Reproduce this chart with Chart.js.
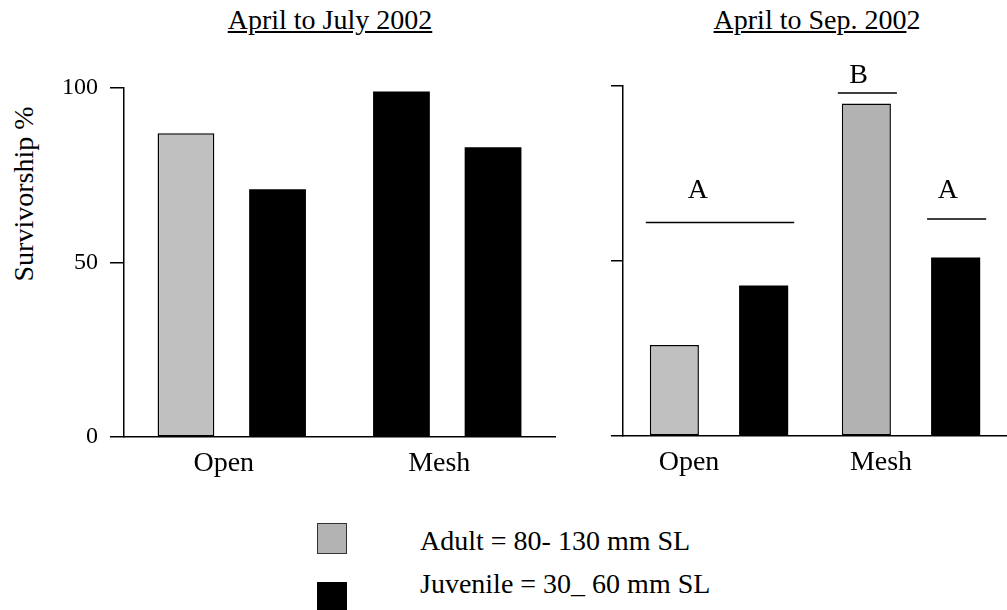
<!DOCTYPE html>
<html>
<head>
<meta charset="utf-8">
<script src="https://cdn.jsdelivr.net/npm/chart.js@4.4.0/dist/chart.umd.min.js"></script>
<style>
  body { margin: 0; background: #fff; width: 1007px; height: 610px; position: relative; overflow: hidden; color: #000; }
  .abs { position: absolute; white-space: nowrap; font-family: 'Liberation Serif', serif; font-size: 28px; line-height: 28px; }
  #leftWrap { position: absolute; left: 0; top: 0; width: 560px; height: 500px; }
  #rightWrap { position: absolute; left: 560px; top: 0; width: 447px; height: 500px; }
  .swatch { position: absolute; width: 28px; height: 29px; }
</style>
</head>
<body>
<div class="abs" style="left:330px; top:6px; transform:translateX(-50%); text-decoration:underline;">April to July 2002</div>
<div class="abs" style="left:817px; top:6px; transform:translateX(-50%);"><u>April to Sep. 200</u>2</div>
<div class="abs" style="left:24px; top:194px; transform:translate(-50%,-50%) rotate(-90deg);">Survivorship %</div>

<div id="leftWrap"><canvas id="julyChart"></canvas></div>
<div id="rightWrap"><canvas id="sepChart"></canvas></div>

<div class="swatch" style="left:317px; top:523px; background:#b3b3b3; border:1px solid #333;"></div>
<div class="swatch" style="left:317px; top:582px; background:#000; border:1px solid #000;"></div>
<div class="abs" style="left:420px; top:527px;">Adult = 80- 130 mm SL</div>
<div class="abs" style="left:420px; top:570px;">Juvenile = 30_ 60 mm SL</div>

<script>
// groups on the x axis
const groups = ["Open", "Mesh"];

// April to July 2002 (left panel): first and second bar of each group
const julyFirst = [87, 99];
const julySecond = [71, 83];

// April to Sep. 2002 (right panel)
const sepAdult = [26, 95];
const sepJuvenile = [43, 51];

// y axis ticks
const yTicks = [0, 50, 100];

// significance letters (right panel); spans are bar indices left to right
const sigLetters = ["A", "B", "A"];
const sigSpans = [[0, 1], [2, 2], [3, 3]];
const sigLineLevels = [61, 98, 62];
const sigLetterLevels = [70, 103, 70];

const GREY = "#c0c0c0";
const GREY_DARK = "#b2b2b2";
const FONT = "'Liberation Serif', serif";
Chart.defaults.font.family = FONT;

function yScale(showLabels) {
  return {
    min: 0,
    max: 100,
    afterBuildTicks: s => { s.ticks = yTicks.map(v => ({ value: v })); },
    afterFit: s => { s.width = showLabels ? 124 : 63; },
    ticks: {
      color: "#000",
      padding: 12,
      font: { family: FONT, size: 24 },
      callback: v => showLabels ? v : ""
    },
    grid: { drawOnChartArea: false, drawTicks: true, tickLength: showLabels ? 14 : 12, color: "#000", lineWidth: 1.5 },
    border: { display: true, color: "#000", width: 1.5 }
  };
}

function xScale(labelOffset, height) {
  return {
    afterFit: s => { s.height = height; },
    ticks: { color: "#000", padding: 10, labelOffset: labelOffset, font: { family: FONT, size: 28 } },
    grid: { display: false, drawTicks: false },
    border: { display: true, color: "#000", width: 1.5 }
  };
}

const commonOptions = {
  responsive: true,
  maintainAspectRatio: false,
  animation: false,
  plugins: { legend: { display: false }, tooltip: { enabled: false } }
};

// lines and letters above the right panel bars
const sigPlugin = {
  id: "sigPlugin",
  afterDatasetsDraw(chart) {
    const { ctx } = chart;
    const y = chart.scales.y;
    const m0 = chart.getDatasetMeta(0).data;
    const m1 = chart.getDatasetMeta(1).data;
    const bars = [m0[0], m1[0], m0[1], m1[1]];
    ctx.save();
    ctx.strokeStyle = "#000";
    ctx.lineWidth = 1.5;
    ctx.fillStyle = "#000";
    ctx.font = "28px " + FONT;
    ctx.textAlign = "center";
    ctx.textBaseline = "middle";
    sigLetters.forEach((letter, i) => {
      const a = bars[sigSpans[i][0]];
      const b = bars[sigSpans[i][1]];
      const x0 = a.x - a.width / 2 - 4;
      const x1 = b.x + b.width / 2 + 6;
      const ly = y.getPixelForValue(sigLineLevels[i]);
      ctx.beginPath();
      ctx.moveTo(x0, ly);
      ctx.lineTo(x1, ly);
      ctx.stroke();
      ctx.fillText(letter, x0 + (x1 - x0) * 0.35, y.getPixelForValue(sigLetterLevels[i]));
    });
    ctx.restore();
  }
};

function drawCharts() {
  // left panel
  new Chart(document.getElementById("julyChart"), {
    type: "bar",
    data: {
      labels: groups,
      datasets: [
        {
          data: julyFirst,
          backgroundColor: [GREY, "#000"],
          borderColor: "#000",
          borderWidth: [1.5, 0],
          borderSkipped: false
        },
        {
          data: julySecond,
          backgroundColor: "#000",
          borderWidth: 0
        }
      ]
    },
    options: {
      ...commonOptions,
      layout: { padding: { top: 88, right: 5, left: 0, bottom: 0 } },
      datasets: { bar: { categoryPercentage: 0.85, barPercentage: 0.62 } },
      scales: { x: xScale(-8, 63), y: yScale(true) }
    }
  });

  // right panel
  new Chart(document.getElementById("sepChart"), {
    type: "bar",
    data: {
      labels: groups,
      datasets: [
        {
          data: sepAdult,
          backgroundColor: [GREY, GREY_DARK],
          borderColor: "#000",
          borderWidth: 1.5,
          borderSkipped: false
        },
        {
          data: sepJuvenile,
          backgroundColor: "#000",
          borderWidth: 0
        }
      ]
    },
    options: {
      ...commonOptions,
      layout: { padding: { top: 86, right: -8, left: 0, bottom: 0 } },
      datasets: { bar: { categoryPercentage: 0.93, barPercentage: 0.55 } },
      scales: { x: xScale(-30, 64), y: yScale(false) }
    },
    plugins: [sigPlugin]
  });
}

drawCharts();
</script>
</body>
</html>
